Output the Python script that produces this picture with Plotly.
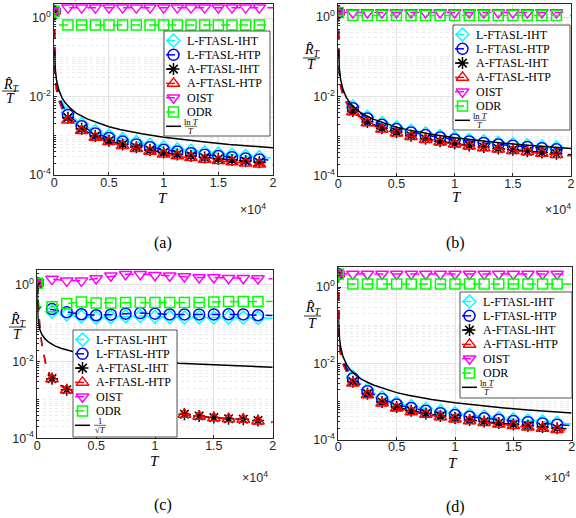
import plotly.graph_objects as go

# horizon values (T) where the curves were read, markers every 1250
T_pts = [1, 20, 50, 100, 200, 400, 700, 1000, 1250, 2500, 3750, 5000, 6250, 7500,
         8750, 10000, 11250, 12500, 13750, 15000, 16250, 17500, 18750, 20000]
mark_idx = [0] + list(range(8, 23))

# (a)
a_l_iht = [1.5, 0.14, 0.07, 0.04, 0.022, 0.0125, 0.0075, 0.005, 3.9e-3, 2.0e-3, 1.32e-3, 1.01e-3,
           8.2e-4, 6.9e-4, 5.9e-4, 5.1e-4, 4.55e-4, 4.15e-4, 3.8e-4, 3.5e-4, 3.28e-4, 3.05e-4, 2.88e-4, 2.7e-4]
a_l_htp = [1.5, 0.12, 0.06, 0.035, 0.019, 0.011, 0.0065, 0.0044, 3.4e-3, 1.75e-3, 1.15e-3, 8.8e-4,
           7.1e-4, 6.0e-4, 5.1e-4, 4.4e-4, 3.95e-4, 3.6e-4, 3.3e-4, 3.05e-4, 2.85e-4, 2.65e-4, 2.5e-4, 2.35e-4]
a_a_iht = [1.5, 0.1, 0.05, 0.03, 0.016, 0.0093, 0.0055, 0.0038, 2.9e-3, 1.5e-3, 9.8e-4, 7.5e-4,
           6.0e-4, 5.1e-4, 4.35e-4, 3.75e-4, 3.35e-4, 3.05e-4, 2.8e-4, 2.6e-4, 2.42e-4, 2.25e-4, 2.12e-4, 2.0e-4]
a_a_htp = [1.5, 0.09, 0.045, 0.026, 0.014, 0.008, 0.0048, 0.0033, 2.5e-3, 1.35e-3, 9.0e-4, 7.0e-4,
           5.6e-4, 4.7e-4, 4.0e-4, 3.4e-4, 3.05e-4, 2.75e-4, 2.5e-4, 2.3e-4, 2.15e-4, 2.0e-4, 1.88e-4, 1.78e-4]
a_oist = [1.5, 1.8, 1.85, 1.85, 1.85, 1.85, 1.85, 1.85, 1.85, 1.85, 1.85, 1.85,
          1.85, 1.85, 1.85, 1.85, 1.85, 1.85, 1.85, 1.85, 1.85, 1.85, 1.85, 1.85]
a_odr = [1.5, 0.7, 0.67, 0.67, 0.67, 0.67, 0.67, 0.67, 0.67, 0.67, 0.67, 0.67,
         0.67, 0.67, 0.67, 0.67, 0.67, 0.67, 0.67, 0.67, 0.67, 0.67, 0.67, 0.67]

# (b)
b_l_iht = [1.3, 0.16, 0.08, 0.045, 0.026, 0.015, 0.0093, 0.0068, 5.6e-3, 3.1e-3, 2.15e-3, 1.67e-3,
           1.38e-3, 1.18e-3, 1.02e-3, 9.1e-4, 8.2e-4, 7.5e-4, 6.8e-4, 6.4e-4, 5.9e-4, 5.5e-4, 5.2e-4, 4.9e-4]
b_l_htp = [1.3, 0.14, 0.07, 0.04, 0.023, 0.0135, 0.0084, 0.0062, 5.1e-3, 2.8e-3, 1.95e-3, 1.52e-3,
           1.25e-3, 1.07e-3, 9.3e-4, 8.3e-4, 7.4e-4, 6.8e-4, 6.2e-4, 5.8e-4, 5.4e-4, 5.0e-4, 4.7e-4, 4.45e-4]
b_a_iht = [1.3, 0.12, 0.06, 0.034, 0.019, 0.011, 0.0071, 0.0052, 4.3e-3, 2.3e-3, 1.6e-3, 1.27e-3,
           1.03e-3, 8.7e-4, 7.5e-4, 6.6e-4, 5.9e-4, 5.4e-4, 4.95e-4, 4.55e-4, 4.2e-4, 3.9e-4, 3.65e-4, 3.45e-4]
b_a_htp = [1.3, 0.11, 0.055, 0.032, 0.018, 0.0105, 0.0068, 0.005, 4.1e-3, 2.15e-3, 1.5e-3, 1.2e-3,
           9.7e-4, 8.2e-4, 7.1e-4, 6.3e-4, 5.6e-4, 5.1e-4, 4.7e-4, 4.3e-4, 4.0e-4, 3.7e-4, 3.45e-4, 3.25e-4]
b_oist = [1.3, 1.3, 1.3, 1.3, 1.3, 1.3, 1.3, 1.3, 1.3, 1.3, 1.3, 1.3,
          1.3, 1.3, 1.3, 1.3, 1.3, 1.3, 1.3, 1.3, 1.3, 1.3, 1.3, 1.3]
b_odr = [1.3, 1.12, 1.1, 1.1, 1.1, 1.1, 1.1, 1.1, 1.1, 1.1, 1.1, 1.1,
         1.1, 1.1, 1.1, 1.1, 1.1, 1.1, 1.1, 1.1, 1.1, 1.1, 1.1, 1.1]

# (c)
c_l_iht = [1.1, 0.27, 0.26, 0.25, 0.24, 0.22, 0.21, 0.2, 0.2, 0.17, 0.15, 0.14,
           0.145, 0.152, 0.155, 0.148, 0.145, 0.142, 0.143, 0.142, 0.143, 0.142, 0.138, 0.136]
c_l_htp = [1.1, 0.28, 0.27, 0.27, 0.26, 0.255, 0.245, 0.24, 0.235, 0.195, 0.172, 0.162,
           0.168, 0.178, 0.185, 0.178, 0.17, 0.17, 0.17, 0.17, 0.172, 0.17, 0.162, 0.16]
c_a_iht = [1.1, 0.8, 0.42, 0.21, 0.095, 0.027, 0.0095, 0.005, 3.6e-3, 1.85e-3, 1.22e-3, 9.2e-4,
           7.6e-4, 6.5e-4, 5.7e-4, 5.1e-4, 4.65e-4, 4.25e-4, 3.8e-4, 3.5e-4, 3.25e-4, 3.15e-4, 2.9e-4, 2.7e-4]
c_a_htp = [1.1, 0.78, 0.4, 0.2, 0.09, 0.025, 0.009, 0.0048, 3.5e-3, 1.8e-3, 1.2e-3, 9.0e-4,
           7.5e-4, 6.4e-4, 5.6e-4, 5.0e-4, 4.6e-4, 4.2e-4, 3.7e-4, 3.4e-4, 3.2e-4, 3.1e-4, 2.8e-4, 2.6e-4]
c_oist = [1.1, 1.2, 1.25, 1.3, 1.35, 1.38, 1.4, 1.41, 1.42, 1.28, 1.28, 1.47,
          1.73, 1.91, 1.91, 1.8, 1.73, 1.66, 1.56, 1.56, 1.5, 1.5, 1.47, 1.45]
c_odr = [1.1, 0.28, 0.27, 0.27, 0.27, 0.27, 0.27, 0.27, 0.27, 0.33, 0.36, 0.34,
         0.34, 0.35, 0.35, 0.35, 0.35, 0.35, 0.35, 0.36, 0.37, 0.37, 0.37, 0.37]

# (d)
d_l_iht = [2.2, 0.15, 0.075, 0.045, 0.025, 0.014, 0.0085, 0.0058, 4.4e-3, 2.05e-3, 1.28e-3, 9.2e-4,
           7.5e-4, 6.4e-4, 5.5e-4, 4.9e-4, 4.4e-4, 4.0e-4, 3.65e-4, 3.4e-4, 3.15e-4, 2.95e-4, 2.75e-4, 2.55e-4]
d_l_htp = [2.2, 0.13, 0.065, 0.04, 0.022, 0.0125, 0.0076, 0.0052, 4.0e-3, 1.85e-3, 1.15e-3, 8.3e-4,
           6.7e-4, 5.7e-4, 4.9e-4, 4.4e-4, 3.95e-4, 3.6e-4, 3.3e-4, 3.05e-4, 2.85e-4, 2.65e-4, 2.45e-4, 2.3e-4]
d_a_iht = [2.2, 0.11, 0.055, 0.033, 0.018, 0.0102, 0.0063, 0.0043, 3.3e-3, 1.6e-3, 9.6e-4, 7.1e-4,
           5.7e-4, 4.8e-4, 4.15e-4, 3.65e-4, 3.25e-4, 2.95e-4, 2.7e-4, 2.48e-4, 2.28e-4, 2.12e-4, 1.97e-4, 1.85e-4]
d_a_htp = [2.2, 0.1, 0.05, 0.03, 0.016, 0.0093, 0.0057, 0.0039, 3.0e-3, 1.47e-3, 8.9e-4, 6.6e-4,
           5.3e-4, 4.5e-4, 3.9e-4, 3.4e-4, 3.05e-4, 2.75e-4, 2.5e-4, 2.3e-4, 2.1e-4, 1.95e-4, 1.8e-4, 1.7e-4]
d_oist = [2.2, 2.2, 2.2, 2.2, 2.2, 2.2, 2.2, 2.2, 2.2, 2.2, 2.2, 2.2,
          2.2, 2.2, 2.2, 2.2, 2.2, 2.2, 2.2, 2.2, 2.2, 2.2, 2.2, 2.2]
d_odr = [2.2, 1.2, 1.2, 1.2, 1.2, 1.2, 1.2, 1.2, 1.2, 1.2, 1.2, 1.2,
         1.2, 1.2, 1.2, 1.2, 1.2, 1.2, 1.2, 1.2, 1.2, 1.2, 1.2, 1.2]

# reference curves
ref_T = [20, 50, 100, 200, 400, 700, 1000, 1500, 2000, 3000, 4000, 5000, 6000, 8000,
         10000, 12000, 14000, 16000, 18000, 20000]
ref_lnT = [0.15, 0.078, 0.046, 0.0265, 0.015, 0.0094, 0.0069, 0.0049, 0.0038, 0.0027, 0.0021, 0.0017,
           0.00145, 0.00112, 0.00092, 0.00078, 0.00068, 0.0006, 0.00054, 0.000495]
ref_c_T = [1, 5, 20, 50, 100, 200, 400, 700, 1000, 1500, 2000, 3000, 4000, 5000, 6000, 8000,
           10000, 12000, 14000, 16000, 18000, 20000]
ref_sqrt = [1.0, 0.45, 0.22, 0.14, 0.1, 0.071, 0.05, 0.038, 0.0316, 0.0258, 0.0224, 0.0183, 0.0158,
            0.0141, 0.0129, 0.0112, 0.01, 0.0091, 0.0085, 0.0079, 0.0075, 0.0071]

names = ["L-FTASL-IHT", "L-FTASL-HTP", "A-FTASL-IHT", "A-FTASL-HTP", "OIST", "ODR"]
colors = ["#00FFFF", "#0000FF", "#000000", "#FF0000", "#FF00FF", "#00FF00"]
symbols = ["diamond-open", "circle-open", "asterisk-open", "triangle-up-open", "triangle-down-open", "square-open"]
sizes = [10, 11, 10, 11, 11, 10]

W, H = 576, 518
def px(x, y):
    return x / W, 1 - y / H

# panel boxes in pixels (left, right, top, bottom) and log-y top
boxes = [(54.3, 273, 4, 175, 0.36), (338.3, 571, 4, 176, 0.33),
         (37.3, 272.7, 270, 438.3, 0.39), (338.3, 571.7, 267.3, 439.5, 0.52)]
# legend boxes in pixels (left, top, width, height)
legbox = [(164, 31, 106, 105), (453, 25, 117, 105), (73, 330, 104, 107), (460, 292, 112, 106)]
ref_frac = [("ln <i>T</i>", "<i>T</i>"), ("ln <i>T</i>", "<i>T</i>"),
            ("1", "√<i>T</i>"), ("ln <i>T</i>", "<i>T</i>")]

panels = [
    ([a_l_iht, a_l_htp, a_a_iht, a_a_htp, a_oist, a_odr], ref_T, ref_lnT),
    ([b_l_iht, b_l_htp, b_a_iht, b_a_htp, b_oist, b_odr], ref_T, ref_lnT),
    ([c_l_iht, c_l_htp, c_a_iht, c_a_htp, c_oist, c_odr], ref_c_T, ref_sqrt),
    ([d_l_iht, d_l_htp, d_a_iht, d_a_htp, d_oist, d_odr], ref_T, ref_lnT),
]

fig = go.Figure()
minor_vals = [k * 10.0 ** d for d in range(-4, 1) for k in range(2, 10)] + [1e-3, 1e-1]
tickfont = dict(family="Liberation Sans", size=12.5, color="#262626")
ann = []

for p, (ys, rx, ry) in enumerate(panels):
    sfx = "" if p == 0 else str(p + 1)
    xa, ya = "x" + sfx, "y" + sfx
    for col, sym, sz, y in zip(colors, symbols, sizes, ys):
        fig.add_trace(go.Scatter(x=T_pts, y=y, mode="lines", xaxis=xa, yaxis=ya,
                                 line=dict(color=col, width=1.5, dash="dash"),
                                 showlegend=False, hoverinfo="skip"))
        fig.add_trace(go.Scatter(x=[T_pts[i] for i in mark_idx], y=[y[i] for i in mark_idx],
                                 mode="markers", xaxis=xa, yaxis=ya, showlegend=False, hoverinfo="skip",
                                 marker=dict(symbol=sym, size=sz, color=col, line=dict(color=col, width=1.5))))
    fig.add_trace(go.Scatter(x=rx, y=ry, mode="lines", xaxis=xa, yaxis=ya, showlegend=False,
                             hoverinfo="skip", line=dict(color="black", width=1.5)))

    l, r, t, b, top = boxes[p]
    x0, y1 = px(l, t)
    x1, y0 = px(r, b)
    fig.layout["xaxis" + sfx] = dict(
        domain=[x0, x1], anchor=ya, range=[0, 20000], automargin=False,
        tickvals=[0, 5000, 10000, 15000, 20000], ticktext=["0", "0.5", "1", "1.5", "2"],
        showgrid=True, gridcolor="#e3e3e3", gridwidth=0.8, zeroline=False,
        showline=True, mirror=True, linecolor="#262626", linewidth=0.8,
        ticks="inside", ticklen=3, tickcolor="#262626", tickfont=tickfont,
        ticklabelstandoff=-4)
    fig.layout["yaxis" + sfx] = dict(
        domain=[y0, y1], anchor=xa, type="log", range=[-4, top], automargin=False,
        tickvals=[1e-4, 1e-2, 1], ticktext=["10<sup>-4</sup>", "10<sup>-2</sup>", "10<sup>0</sup>"],
        showgrid=True, gridcolor="#e3e3e3", gridwidth=0.8, zeroline=False,
        showline=True, mirror=True, linecolor="#262626", linewidth=0.8,
        ticks="inside", ticklen=3, tickcolor="#262626",
        minor=dict(tickvals=minor_vals, showgrid=True, gridcolor="#ececec", griddash="dot",
                   ticks="inside", ticklen=2, tickcolor="#262626"),
        tickfont=tickfont)

# legends drawn on a pixel overlay axis (x5/y5)
for p, (bx, by, bw, bh) in enumerate(legbox):
    fig.add_trace(go.Scatter(x=[bx, bx + bw, bx + bw, bx, bx], y=[by, by, by + bh, by + bh, by],
                             mode="lines", fill="toself", fillcolor="white",
                             line=dict(color="#262626", width=0.8),
                             xaxis="x5", yaxis="y5", showlegend=False, hoverinfo="skip"))
    for i, (name, col, sym, sz) in enumerate(zip(names, colors, symbols, sizes)):
        yy = by + 9.5 + 14.3 * i
        fig.add_trace(go.Scatter(x=[bx + 2, bx + 17], y=[yy, yy], mode="lines",
                                 line=dict(color=col, width=1.5, dash="dash"),
                                 xaxis="x5", yaxis="y5", showlegend=False, hoverinfo="skip"))
        fig.add_trace(go.Scatter(x=[bx + 9.5], y=[yy], mode="markers",
                                 marker=dict(symbol=sym, size=sz, color=col, line=dict(color=col, width=1.5)),
                                 xaxis="x5", yaxis="y5", showlegend=False, hoverinfo="skip"))
        ann.append(dict(x=bx + 21, y=yy, xref="x5", yref="y5", text=name, xanchor="left",
                        yanchor="middle", showarrow=False,
                        font=dict(family="Liberation Serif", size=12, color="black")))
    yy = by + 9.5 + 14.3 * 6
    fig.add_trace(go.Scatter(x=[bx + 2, bx + 17], y=[yy, yy], mode="lines",
                             line=dict(color="black", width=1.5),
                             xaxis="x5", yaxis="y5", showlegend=False, hoverinfo="skip"))
    num, den = ref_frac[p]
    fig.add_trace(go.Scatter(x=[bx + 21, bx + 33], y=[yy, yy], mode="lines",
                             line=dict(color="black", width=0.6),
                             xaxis="x5", yaxis="y5", showlegend=False, hoverinfo="skip"))
    small = dict(family="Liberation Serif", size=8.5, color="black")
    ann.append(dict(x=bx + 27, y=yy - 4.5, xref="x5", yref="y5", text=num, showarrow=False, font=small,
                    xanchor="center", yanchor="middle"))
    ann.append(dict(x=bx + 27, y=yy + 5, xref="x5", yref="y5", text=den, showarrow=False, font=small,
                    xanchor="center", yanchor="middle"))

fig.layout["xaxis5"] = dict(domain=[0, 1], range=[0, W], visible=False, anchor="y5", automargin=False)
fig.layout["yaxis5"] = dict(domain=[0, 1], range=[H, 0], visible=False, anchor="x5", automargin=False)

# axis labels, y-label fractions, x10^4 and captions (pixel positions)
ylab = [(10, 85, 91, 98, 2, 19), (311, 50, 58, 65, 303, 320),
        (17, 320, 327, 334, 9, 26), (312, 308, 316, 323, 304, 321)]
xlab = [(163, 198), (457, 197), (155, 461), (453, 463)]
x10 = [(253, 209), (558, 209), (255, 477), (557, 477)]
caps = [("(a)", 163, 243), ("(b)", 455, 243), ("(c)", 163, 505), ("(d)", 455, 507)]

shapes = []
serif = dict(family="Liberation Serif", size=14, color="black")
def label(x, y, text, font):
    ann.append(dict(x=px(x, y)[0], y=px(x, y)[1], xref="paper", yref="paper", text=text, font=font,
                    xanchor="center", yanchor="middle", showarrow=False))

for (cx, ry_, bar, ty, bx0, bx1), (xx, xy), (mx, my), (cap, kx, ky) in zip(ylab, xlab, x10, caps):
    label(cx + 1, ry_, "<i>R̂</i><sub><i>T</i></sub>", serif)
    label(cx, ty, "<i>T</i>", serif)
    shapes.append(dict(type="line", xref="paper", yref="paper", x0=px(bx0, bar)[0], x1=px(bx1, bar)[0],
                       y0=px(bx0, bar)[1], y1=px(bx1, bar)[1], line=dict(color="black", width=0.8)))
    label(xx, xy, "<i>T</i>", dict(family="Liberation Serif", size=15, color="black"))
    label(mx, my, "×10<sup>4</sup>", tickfont)
    label(kx, ky, cap, dict(family="Liberation Serif", size=16, color="black"))

fig.update_layout(width=W, height=H, margin=dict(l=0, r=0, t=0, b=0),
                  plot_bgcolor="rgba(0,0,0,0)", paper_bgcolor="white", showlegend=False,
                  annotations=ann, shapes=shapes)
fig.write_html("out.html", config={"displayModeBar": False},
               post_script="document.body.style.margin='0px';")
